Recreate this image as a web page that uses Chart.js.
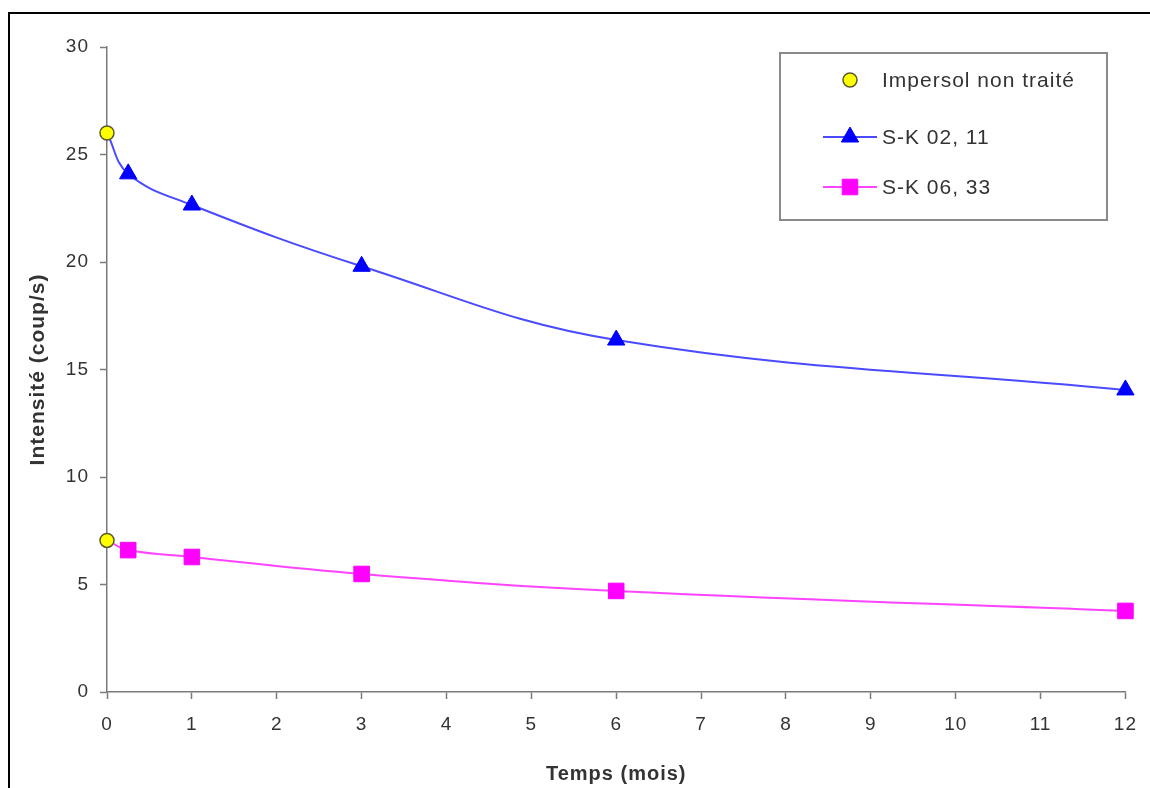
<!DOCTYPE html>
<html>
<head>
<meta charset="utf-8">
<script src="https://cdn.jsdelivr.net/npm/chart.js@4"></script>
<style>
  html, body { margin: 0; padding: 0; background: #fff; }
  #wrap { position: relative; width: 1150px; height: 788px; overflow: hidden; }
  #frame { position: absolute; left: 8px; top: 12px; width: 1200px; height: 900px;
           border-left: 2px solid #000; border-top: 2px solid #000; }
  canvas { position: absolute; left: 0; top: 0; }
</style>
</head>
<body>
<div id="wrap">
  <div id="frame"></div>
  <canvas id="c" width="1150" height="788"></canvas>
</div>
<script>
// ---- data ----
const impersolMonths = [0, 0];
const impersolValues = [26.0, 7.05];

const sk0211Months = [0, 0.25, 1, 3, 6, 12];
const sk0211Values = [26.0, 24.1, 22.65, 19.8, 16.37, 14.05];

const sk0633Months = [0, 0.25, 1, 3, 6, 12];
const sk0633Values = [7.05, 6.6, 6.28, 5.49, 4.7, 3.77];

const xTicks = [0,1,2,3,4,5,6,7,8,9,10,11,12];
const yTicks = [0,5,10,15,20,25,30];

const seriesLabels = ['Impersol non traité', 'S-K 02, 11', 'S-K 06, 33'];
const xTitle = 'Temps (mois)';
const yTitle = 'Intensité (coup/s)';

const toPts = (xs, ys) => xs.map((x, i) => ({x: x, y: ys[i]}));

const FONT = "'Liberation Sans', Arial, sans-serif";
const TXT = '#333333';
const AXIS = '#7a7a7a';

const spacingPlugin = {
  id: 'spacing',
  beforeDraw(chart) {
    if ('letterSpacing' in chart.ctx) chart.ctx.letterSpacing = '1px';
  }
};

const legendPlugin = {
  id: 'boxLegend',
  afterDraw(chart) {
    const ctx = chart.ctx;
    ctx.save();
    ctx.strokeStyle = '#8a8a8a';
    ctx.lineWidth = 2;
    ctx.strokeRect(780, 53, 327, 167);
    ctx.font = '21px ' + FONT;
    ctx.textBaseline = 'middle';
    ctx.textAlign = 'left';
    const rows = [80, 137, 187];
    const ds = chart.data.datasets;
    rows.forEach((y, i) => {
      const d = ds[i];
      if (d.showLine !== false) {
        ctx.strokeStyle = d.borderColor;
        ctx.lineWidth = 2;
        ctx.beginPath();
        ctx.moveTo(823, y);
        ctx.lineTo(877, y);
        ctx.stroke();
      }
      const r = Array.isArray(d.pointRadius) ? d.pointRadius[1] : d.pointRadius;
      ctx.fillStyle = d.pointBackgroundColor;
      ctx.strokeStyle = d.pointBorderColor;
      ctx.lineWidth = d.pointBorderWidth;
      Chart.helpers.drawPoint(ctx, {pointStyle: d.pointStyle, radius: r, borderWidth: d.pointBorderWidth, rotation: 0}, 850, y);
      ctx.fillStyle = TXT;
      ctx.fillText(d.label, 882, y + 1);
    });
    ctx.restore();
  }
};

new Chart(document.getElementById('c'), {
  type: 'scatter',
  data: {
    datasets: [
      {
        label: seriesLabels[0],
        data: toPts(impersolMonths, impersolValues),
        showLine: false,
        pointStyle: 'circle',
        pointRadius: 7,
        pointBackgroundColor: '#ffff00',
        pointBorderColor: '#5a5a2a',
        pointBorderWidth: 1.5,
        clip: false,
        order: 0
      },
      {
        label: seriesLabels[1],
        data: toPts(sk0211Months, sk0211Values),
        showLine: true,
        borderColor: '#4a4aff',
        borderWidth: 2,
        tension: 0.4,
        pointStyle: 'triangle',
        pointRadius: [0, 10, 10, 10, 10, 10],
        pointBackgroundColor: '#0000ff',
        pointBorderColor: '#0000ff',
        pointBorderWidth: 1,
        clip: false,
        order: 1
      },
      {
        label: seriesLabels[2],
        data: toPts(sk0633Months, sk0633Values),
        showLine: true,
        borderColor: '#ff44ff',
        borderWidth: 2,
        tension: 0.4,
        pointStyle: 'rect',
        pointRadius: [0, 11, 11, 11, 11, 11],
        pointBackgroundColor: '#ff00ff',
        pointBorderColor: '#ff00ff',
        pointBorderWidth: 1,
        clip: false,
        order: 2
      }
    ]
  },
  options: {
    responsive: false,
    animation: false,
    events: [],
    layout: { padding: { left: 0, right: 24, top: 47, bottom: 0 } },
    plugins: { legend: { display: false }, tooltip: { enabled: false } },
    scales: {
      x: {
        type: 'linear',
        min: 0, max: 12,
        afterFit(s) { s.height = 96; },
        afterBuildTicks(s) { s.ticks = xTicks.map(v => ({value: v})); },
        grid: { display: true, drawOnChartArea: false, drawTicks: true, tickLength: 7, tickColor: AXIS, tickWidth: 1.5, color: AXIS },
        border: { display: true, color: AXIS, width: 1.5 },
        ticks: { color: TXT, font: { family: FONT, size: 19 }, padding: 14, maxRotation: 0 },
        title: { display: true, text: xTitle, color: TXT, font: { family: FONT, size: 20, weight: 'bold' }, padding: 2 }
      },
      y: {
        type: 'linear',
        min: 0, max: 30,
        afterFit(s) { s.width = 107; },
        afterBuildTicks(s) { s.ticks = yTicks.map(v => ({value: v})); },
        grid: { display: true, drawOnChartArea: false, drawTicks: true, tickLength: 7, tickColor: AXIS, tickWidth: 1.5, color: AXIS },
        border: { display: true, color: AXIS, width: 1.5 },
        ticks: { color: TXT, font: { family: FONT, size: 19 }, padding: 11 },
        title: { display: true, text: yTitle, color: TXT, font: { family: FONT, size: 21, weight: 'bold' }, padding: 26 }
      }
    }
  },
  plugins: [spacingPlugin, legendPlugin]
});
</script>
</body>
</html>
